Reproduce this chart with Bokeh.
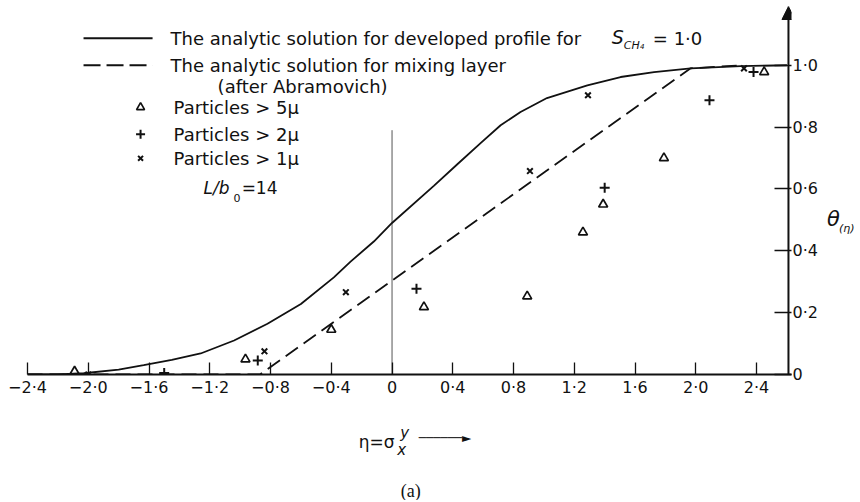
from bokeh.plotting import figure
from bokeh.models import Label, Arrow, NormalHead, LinearAxis, FixedTicker, CustomJSTickFormatter
from bokeh.embed import file_html
from bokeh.resources import INLINE

# ---------------- data ----------------
solid_eta = [-2.4, -2.2, -2.03, -1.8, -1.635, -1.45, -1.26, -1.04, -0.82, -0.6, -0.383, -0.273,
             -0.12, 0.0, 0.275, 0.43, 0.583, 0.715, 0.846, 1.02, 1.286, 1.505, 1.725, 1.966, 2.296, 2.6]
solid_theta = [0.0, 0.0, 0.004, 0.016, 0.03, 0.047, 0.068, 0.11, 0.164, 0.228, 0.314, 0.365,
               0.43, 0.49, 0.61, 0.68, 0.748, 0.806, 0.849, 0.894, 0.935, 0.962, 0.978, 0.99, 0.997, 1.0]

dash_eta = [-2.4, -0.87, 1.966, 2.3]
dash_theta = [0.0, 0.0, 0.99, 1.0]

p5_eta = [-2.09, -0.965, -0.40, 0.21, 0.89, 1.257, 1.39, 1.79, 2.45]
p5_theta = [0.01, 0.049, 0.145, 0.218, 0.253, 0.46, 0.55, 0.70, 0.978]

p2_eta = [-1.50, -0.884, 0.161, 1.40, 2.09, 2.38]
p2_theta = [0.005, 0.045, 0.277, 0.604, 0.887, 0.978]

p1_eta = [-2.0, -0.84, -0.304, 0.908, 1.29, 2.317]
p1_theta = [0.0, 0.075, 0.266, 0.658, 0.903, 0.99]

x_ticks = [-2.4, -2.0, -1.6, -1.2, -0.8, -0.4, 0.0, 0.4, 0.8, 1.2, 1.6, 2.0, 2.4]
y_ticks = [0.0, 0.2, 0.4, 0.6, 0.8, 1.0]
axis_eta = 2.61
zero_line_top = 0.79

FONT = "DejaVu Sans"
INK = "#111111"

# ---------------- figure ----------------
p = figure(width=858, height=500, x_range=(-2.4, 2.63), y_range=(0.0, 1.19),
           output_backend="svg", toolbar_location=None,
           min_border_left=27, min_border_right=67, min_border_top=6, min_border_bottom=126,
           x_axis_location=None, y_axis_location=None)
p.outline_line_color = None
p.grid.visible = False
p.background_fill_color = "white"
p.border_fill_color = "white"

fmt_js = """
if (Math.abs(tick) < 1e-9) { return "0"; }
var s = Math.abs(tick).toFixed(1).replace(".", "\u00b7");
return (tick < 0 ? "\u2212" : "") + s;
"""

xaxis = LinearAxis(ticker=FixedTicker(ticks=x_ticks), formatter=CustomJSTickFormatter(code=fmt_js))
xaxis.major_tick_in = 12
xaxis.major_tick_out = 0
xaxis.minor_tick_line_color = None
xaxis.axis_line_width = 2
xaxis.axis_line_color = INK
xaxis.major_tick_line_color = INK
xaxis.major_tick_line_width = 1.3
xaxis.major_label_text_font = FONT
xaxis.major_label_text_font_size = "16px"
xaxis.major_label_text_color = INK
xaxis.major_label_standoff = 3
p.add_layout(xaxis, "below")

yaxis = LinearAxis(ticker=FixedTicker(ticks=y_ticks), formatter=CustomJSTickFormatter(code=fmt_js))
yaxis.major_tick_in = 17
yaxis.major_tick_out = 0
yaxis.minor_tick_line_color = None
yaxis.axis_line_color = None
yaxis.major_tick_line_color = INK
yaxis.major_tick_line_width = 1.3
yaxis.major_label_text_font = FONT
yaxis.major_label_text_font_size = "16px"
yaxis.major_label_text_color = INK
yaxis.major_label_standoff = 1
p.add_layout(yaxis, "right")

# right axis line with arrow head
p.add_layout(Arrow(x_start=axis_eta, y_start=0.0, x_end=axis_eta, y_end=1.19, line_width=2, line_color=INK,
                   end=NormalHead(size=13, fill_color=INK, line_color=INK, line_width=1)))

# zero line
p.line([0.0, 0.0], [0.0, zero_line_top], line_color="#555555", line_width=1)

# curves
p.line(solid_eta, solid_theta, line_color=INK, line_width=1.8)
p.line(dash_eta, dash_theta, line_color=INK, line_width=1.8, line_dash="15 7")

# particles
p.scatter(p5_eta, p5_theta, marker="triangle", size=9, fill_color=None, line_color=INK, line_width=1.7)
p.scatter(p2_eta, p2_theta, marker="cross", size=10, line_color=INK, line_width=2)
p.scatter(p1_eta, p1_theta, marker="x", size=8, line_color=INK, line_width=2)

# ---------------- helpers to place annotations by reference pixels ----------------
def X(px):
    return -2.4 + (px - 27.0) / 151.8

def Y(py):
    return (374.0 - py) / 309.0

def txt(px, py, s, size="18px", align="left", font=FONT, style="normal", place="center"):
    lab = Label(x=X(px), y=Y(py), text=s, text_font=font, text_font_size=size,
                text_align=align, text_baseline="middle", text_font_style=style,
                text_color=INK)
    if place == "center":
        p.add_layout(lab)
    else:
        p.add_layout(lab, place)

# legend
p.line([X(83), X(152)], [Y(38), Y(38)], line_color=INK, line_width=1.8)
txt(170, 38, "The analytic solution for developed profile  for")
txt(611, 37, "S", size="19px", style="italic")
txt(623, 45, "CH\u2084", size="11px", style="italic")
txt(652, 38, "= 1\u00b70")

p.line([X(83), X(152)], [Y(65), Y(65)], line_color=INK, line_width=1.8, line_dash="17 6")
txt(170, 65, "The analytic solution for mixing layer")
txt(217, 86, "(after Abramovich)")

p.scatter([X(140)], [Y(107)], marker="triangle", size=8, fill_color=None, line_color=INK, line_width=1.7)
txt(173, 107, "Particles > 5\u03bc")
p.scatter([X(140)], [Y(134)], marker="cross", size=9, line_color=INK, line_width=2)
txt(173, 134, "Particles  > 2\u03bc")
p.scatter([X(140)], [Y(158)], marker="x", size=7, line_color=INK, line_width=2)
txt(173, 158, "Particles > 1\u03bc")

txt(203, 188, "L/b", size="17px", style="italic")
txt(233, 198, "0", size="11px")
txt(241, 188, "=14", size="17px")

# y label theta(eta) (right side panel)
txt(826, 219, "\u03b8", size="21px", style="italic", place="right")
txt(838, 228, "(\u03b7)", size="11px", style="italic", place="right")

# x label eta = sigma y/x  -->  (bottom side panel)
txt(358, 441, "\u03b7=\u03c3", size="17px", place="below")
txt(404, 432, "y", size="15px", style="italic", align="center", place="below")
txt(401, 449, "x", size="15px", style="italic", align="center", place="below")
txt(418, 437, "\u2500\u2500\u2500\u2500\u2500\u2500\u25ba", size="12px", place="below")

txt(410, 490, "(a)", size="18px", font="Liberation Serif", align="center", place="below")

open("out.html", "w").write(file_html(p, INLINE))
